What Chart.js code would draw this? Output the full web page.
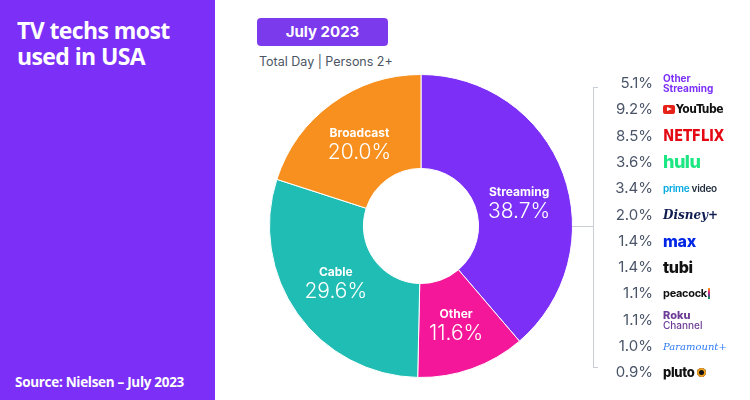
<!DOCTYPE html>
<html>
<head>
<meta charset="utf-8">
<script src="https://cdn.jsdelivr.net/npm/chart.js"></script>
<style>
  html, body { margin: 0; padding: 0; background: #fff; }
  #wrap { position: relative; width: 750px; height: 400px; overflow: hidden; font-family: Inter, "Noto Sans", sans-serif; }
  #side { position: absolute; left: 0; top: 0; width: 215px; height: 400px; background: #7b2ff7; }
  #title { position: absolute; left: 17px; top: 17px; color: #fff; font: 700 23px/26px "Open Sans", sans-serif; letter-spacing: -0.6px; }
  #source { position: absolute; left: 15px; top: 373px; color: #fff; font: 700 13.5px "Open Sans", sans-serif; letter-spacing: -0.3px; }
  #pill { position: absolute; left: 257px; top: 18px; width: 131px; height: 28px; border-radius: 4px; background: #7c3aed; color: #fff; font: 700 15px/28px Inter, sans-serif; text-align: center; }
  #sub { position: absolute; left: 259px; top: 54px; color: #4b5563; font: 400 12.5px Inter, sans-serif; }
  canvas { position: absolute; left: 0; top: 0; }
  .bracket { position: absolute; background: #c9cdd6; }
  .row { position: absolute; left: 600px; height: 24px; width: 150px; }
  .pct { position: absolute; right: 97px; top: 0; line-height: 24px; font: 400 15px/24px Inter, sans-serif; color: #4a5568; }
  .brand { position: absolute; left: 63px; top: 0; height: 24px; display: flex; align-items: center; white-space: nowrap; }
</style>
</head>
<body>
<div id="wrap">
  <div id="side"></div>
  <div id="title">TV techs most<br>used in USA</div>
  <div id="source">Source: Nielsen – July 2023</div>
  <div id="pill">July 2023</div>
  <div id="sub">Total Day | Persons 2+</div>
  <canvas id="chart" width="750" height="400"></canvas>
  <div class="bracket" style="left:572px;top:226px;width:21px;height:1px"></div>
  <div class="bracket" style="left:593px;top:87px;width:1px;height:281px"></div>
  <div class="bracket" style="left:593px;top:87px;width:5px;height:1px"></div>
  <div class="bracket" style="left:593px;top:367px;width:5px;height:1px"></div>
  <div id="legend"></div>
</div>
<script>
// data
const categories = ['Streaming', 'Other', 'Cable', 'Broadcast'];
const shares = [38.7, 11.6, 29.6, 20.0];
const platforms = ['Other Streaming', 'YouTube', 'Netflix', 'Hulu', 'Prime Video', 'Disney+', 'Max', 'Tubi', 'Peacock', 'Roku Channel', 'Paramount+', 'Pluto'];
const platformShares = [5.1, 9.2, 8.5, 3.6, 3.4, 2.0, 1.4, 1.4, 1.1, 1.1, 1.0, 0.9];

const sliceColors = ['#7b2ff7', '#f5179a', '#1fbdb4', '#f7901e'];
// small vertical nudge of the slice labels (streaming sits a bit lower in the original)
const labelNudge = [13, 0, -4, 2];

// brand "logos" as plain styled text
const brandHtml = {
  'Other Streaming': '<span style="color:#7b2ff7;font:700 10px/10px Inter,sans-serif">Other<br>Streaming</span>',
  'YouTube': '<span style="display:inline-block;width:12px;height:9px;background:#e62117;border-radius:2px;position:relative;margin-right:1px"><span style="position:absolute;left:4px;top:2px;border-left:5px solid #fff;border-top:2.5px solid transparent;border-bottom:2.5px solid transparent"></span></span><span style="font:700 12px \'Liberation Sans Narrow\',\'DejaVu Sans Condensed\',sans-serif;color:#111;letter-spacing:-0.5px">YouTube</span>',
  'Netflix': '<span style="color:#e50914;font:700 15px \'Liberation Sans Narrow\',\'DejaVu Sans Condensed\',sans-serif;letter-spacing:-0.3px">NETFLIX</span>',
  'Hulu': '<span style="color:#1ce783;font:800 18px Inter,sans-serif;letter-spacing:-0.5px">hulu</span>',
  'Prime Video': '<span style="font:600 10px Inter,sans-serif;letter-spacing:-0.3px"><span style="color:#00a8e1">prime</span> <span style="color:#232f3e">video</span></span>',
  'Disney+': '<span style="color:#0e1c4f;font:italic 700 12px \'DejaVu Serif\',serif">Disney+</span>',
  'Max': '<span style="color:#0027e6;font:800 16px Inter,sans-serif;letter-spacing:-0.3px">max</span>',
  'Tubi': '<span style="color:#111;font:800 16px Inter,sans-serif;letter-spacing:-0.3px">tubi</span>',
  'Peacock': '<span style="color:#111;font:700 11px Inter,sans-serif;letter-spacing:-0.3px">peacock</span><span style="display:inline-block;width:2px;height:11px;margin-left:1px;background:linear-gradient(#f9b000,#ee2b74,#6b3fa0,#05ac3f)"></span>',
  'Roku Channel': '<span style="color:#6c3c97;font:800 11px/10px Inter,sans-serif">Roku<br><span style="font-weight:500;font-size:10px">Channel</span></span>',
  'Paramount+': '<span style="color:#2f7bf5;font:italic 400 10px \'DejaVu Serif\',serif">Paramount+</span>',
  'Pluto': '<span style="color:#111;font:800 13px Inter,sans-serif;letter-spacing:-0.3px">pluto</span><span style="display:inline-block;width:9px;height:9px;border-radius:50%;background:#111;margin-left:2px;box-shadow:inset 0 0 0 2px #f0a020"></span>'
};

const rowTop = 71;
const rowGap = 26.3;
const legend = document.getElementById('legend');
legend.innerHTML = platforms.map((p, i) =>
  `<div class="row" style="top:${(rowTop + i * rowGap).toFixed(1)}px">
     <span class="pct">${platformShares[i].toFixed(1)}%</span>
     <span class="brand">${brandHtml[p]}</span>
   </div>`).join('');

// labels inside the slices
const sliceLabels = {
  id: 'sliceLabels',
  afterDatasetsDraw(chart) {
    const ctx = chart.ctx;
    const meta = chart.getDatasetMeta(0);
    meta.data.forEach((arc, i) => {
      const mid = (arc.startAngle + arc.endAngle) / 2;
      const r = (arc.innerRadius + arc.outerRadius) / 2;
      const x = arc.x + Math.cos(mid) * r;
      const y = arc.y + Math.sin(mid) * r + labelNudge[i];
      ctx.save();
      ctx.fillStyle = '#fff';
      ctx.textAlign = 'center';
      ctx.textBaseline = 'middle';
      ctx.font = '700 12px Inter, sans-serif';
      ctx.fillText(categories[i], x, y - 10);
      ctx.font = '300 21px Inter, sans-serif';
      ctx.fillText(shares[i].toFixed(1) + '%', x, y + 9);
      ctx.restore();
    });
  }
};

new Chart(document.getElementById('chart').getContext('2d'), {
  type: 'doughnut',
  data: {
    labels: categories,
    datasets: [{
      data: shares,
      backgroundColor: sliceColors,
      borderColor: '#fff',
      borderWidth: 1
    }]
  },
  options: {
    responsive: false,
    animation: false,
    cutout: '38%',
    layout: { padding: { left: 269, right: 177, top: 74, bottom: 22 } },
    plugins: { legend: { display: false }, tooltip: { enabled: false } }
  },
  plugins: [sliceLabels]
});
</script>
</body>
</html>
